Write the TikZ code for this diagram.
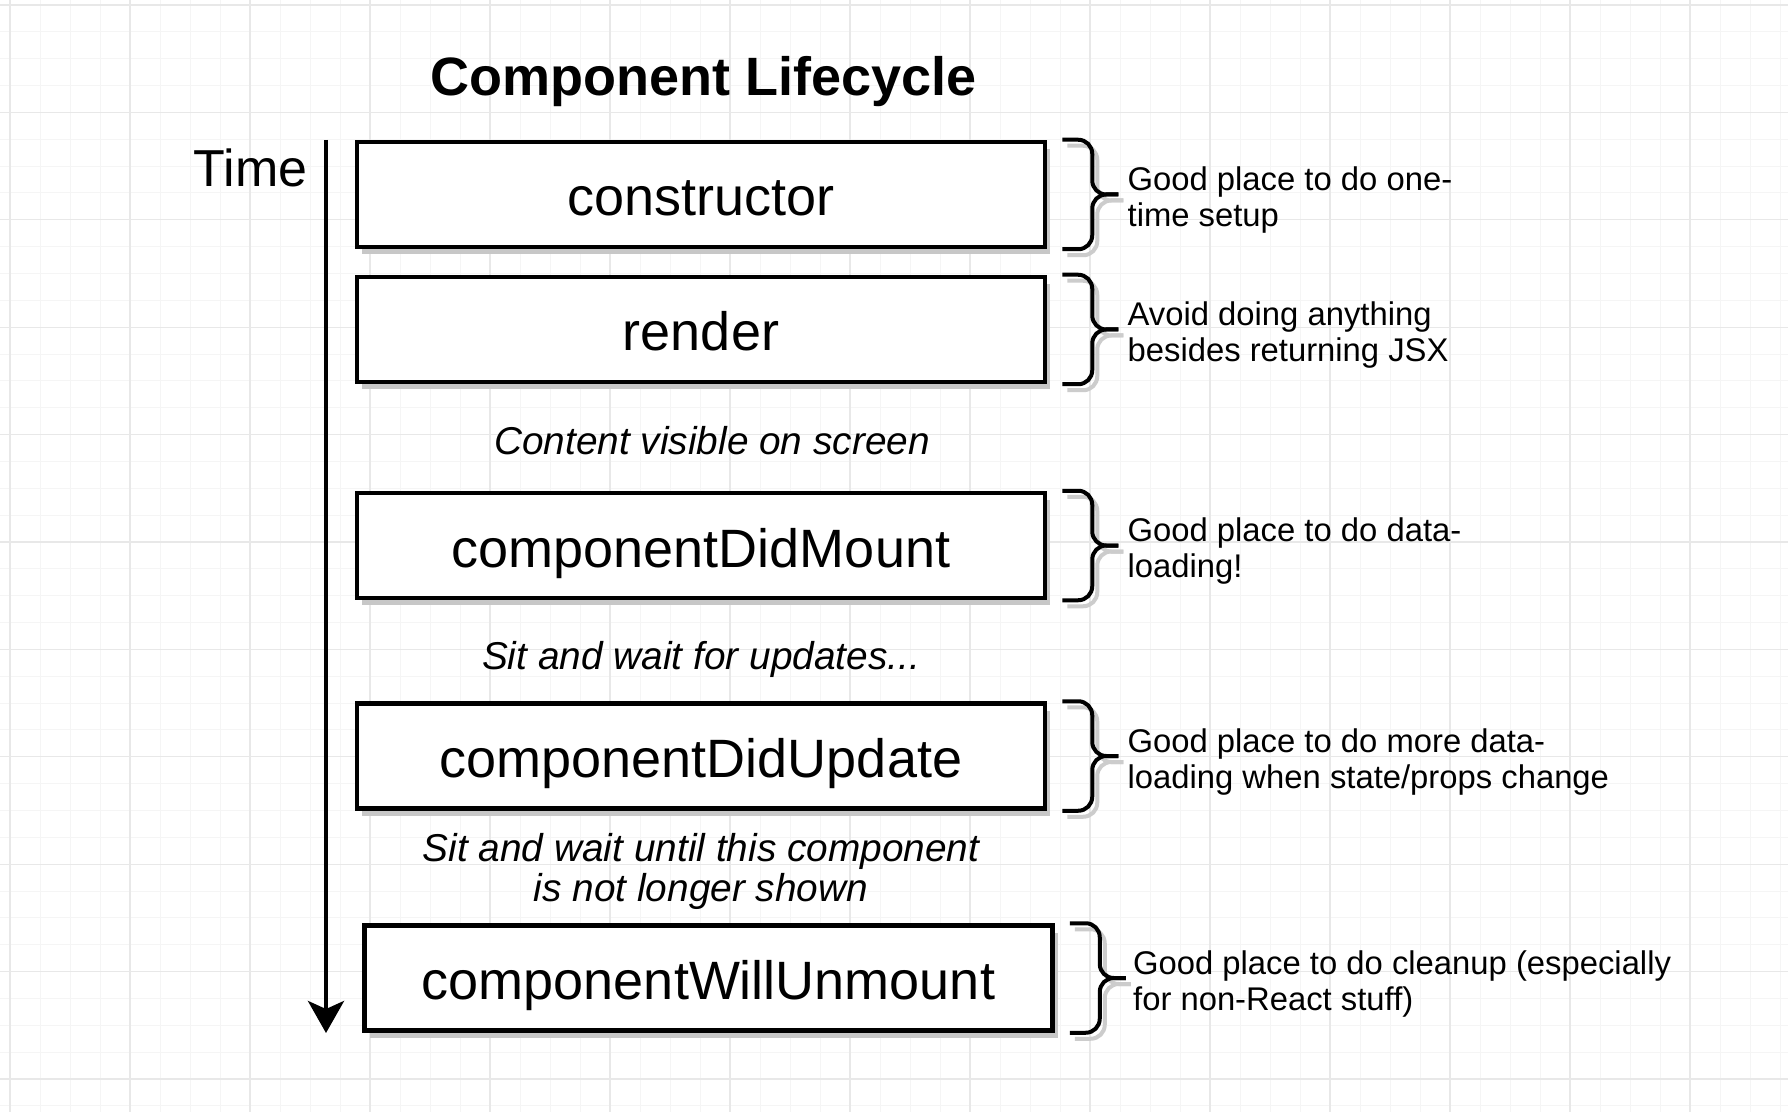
\documentclass[tikz,border=0pt]{standalone}
\usepackage{fontspec}
\setmainfont{Liberation Sans}
\usetikzlibrary{arrows.meta,calc,shadows}
\newcommand\bracepath[4]{%
  \draw[#4] ($(#1.north east)+(15+#2,#3)$) -- ($(#1.north east)+(45+#2,#3)$) -- ($(#1.east)+(45+#2,#3)$) -- ($(#1.east)+(71+#2,#3)$);
  \draw[#4] ($(#1.south east)+(15+#2,#3)$) -- ($(#1.south east)+(45+#2,#3)$) -- ($(#1.east)+(45+#2,#3)$) -- ($(#1.east)+(71+#2,#3)$);
}
\newcommand\bracefor[1]{\bracepath{#1}{5}{6}{brcsh}\bracepath{#1}{0}{0}{brc}}
\begin{document}
\begin{tikzpicture}[x=0.5pt,y=-0.5pt,
  box/.style={draw=black, line width=2.25pt, fill=white, minimum width=344pt, minimum height=52.5pt, inner sep=0pt,
    text height=22.5pt, text depth=1pt,
    font=\fontsize{27}{32}\selectfont,
    drop shadow={shadow xshift=2.5pt, shadow yshift=-3.5pt, fill=black!22, opacity=1}},
  note/.style={anchor=west, align=left, inner sep=0pt, font=\fontsize{16.4}{18}\selectfont},
  lbl/.style={align=center, inner sep=0pt, font=\fontsize{19.4}{20}\selectfont\itshape},
  brc/.style={draw=black, line width=2pt, rounded corners=7pt},
  brcsh/.style={brc, draw=black!20},
  minorgrid/.style={draw=black!4, line width=0.5pt},
  majorgrid/.style={draw=black!9, line width=0.6pt},
  timearrow/.style={line width=2.2pt, -{Stealth[length=16pt,width=18pt,inset=4pt]}}]
\useasboundingbox (0,0) rectangle (1788,1112);
\fill[white] (0,0) rectangle (1788,1112);
% grid
\foreach \i in {0,...,59} \draw[minorgrid] (10+30*\i,0) -- (10+30*\i,1112);
\foreach \i in {0,...,41} \draw[minorgrid] (0,5+26.85*\i) -- (1788,5+26.85*\i);
\foreach \i in {0,...,14} \draw[majorgrid] (10+120*\i,0) -- (10+120*\i,1112);
\foreach \i in {0,...,10} \draw[majorgrid] (0,5+107.4*\i) -- (1788,5+107.4*\i);

% title and time axis
\node[font=\fontsize{27}{32}\selectfont\bfseries] (title) at (704,82) {Component Lifecycle};
\node[anchor=base east, inner sep=0pt, font=\fontsize{26}{30}\selectfont] (time) at (308,187) {Time};
\coordinate (tstart) at (326,140);
\coordinate (tend) at (326,1033);
\draw[timearrow] (tstart) -- (tend);

% lifecycle boxes
\node[box] (ctor) at (701,194.5) {constructor};
\node[box] (rend) at (701,329.5) {render};
\node[box] (mount) at (701,545.5) {componentDidMount};
\node[box] (update) at (701,756) {componentDidUpdate};
\node[box] (unmount) at (708.5,978) {componentWillUnmount};

% italic labels
\node[lbl] (content) at (712,441) {Content visible on screen};
\node[lbl] (waitupd) at (701,659.5) {Sit and wait for updates...};
\node[lbl] (waitunm) at (701,871.5) {Sit and wait until this component\\is not longer shown};

% braces
\bracefor{ctor}
\bracefor{rend}
\bracefor{mount}
\bracefor{update}
\bracefor{unmount}

% notes
\node[note] (n1) at ($(ctor.east)+(80,6)$) {Good place to do one-\\time setup};
\node[note] (n2) at ($(rend.east)+(80,6)$) {Avoid doing anything\\besides returning JSX};
\node[note] (n3) at ($(mount.east)+(80,6)$) {Good place to do data-\\loading!};
\node[note] (n4) at ($(update.east)+(80,6)$) {Good place to do more data-\\loading when state/props change};
\node[note] (n5) at ($(unmount.east)+(78,6)$) {Good place to do cleanup (especially\\for non-React stuff)};
\end{tikzpicture}
\end{document}
